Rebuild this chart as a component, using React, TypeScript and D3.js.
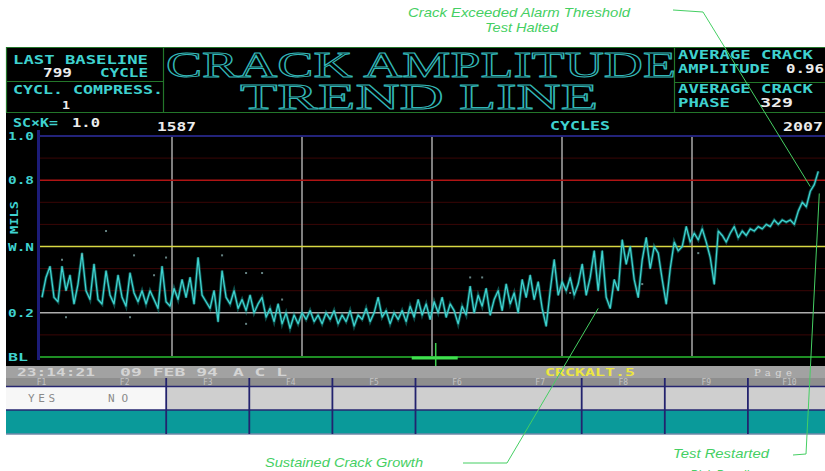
import * as d3 from "d3"

// crack amplitude (mils), left to right, evenly spaced in cycles
const amplitude = [
  0.27, 0.36, 0.41, 0.27, 0.25, 0.41, 0.3, 0.37, 0.24, 0.33, 0.47, 0.3, 0.26, 0.42, 0.26, 0.24,
  0.39, 0.28, 0.24, 0.37, 0.27, 0.23, 0.38, 0.29, 0.25, 0.3, 0.24, 0.3, 0.26, 0.22, 0.41, 0.25,
  0.23, 0.31, 0.26, 0.35, 0.27, 0.36, 0.24, 0.45, 0.28, 0.25, 0.22, 0.3, 0.16, 0.39, 0.27, 0.24,
  0.3, 0.22, 0.26, 0.21, 0.28, 0.2, 0.24, 0.27, 0.18, 0.22, 0.16, 0.24, 0.15, 0.2, 0.13, 0.19,
  0.15, 0.2, 0.17, 0.21, 0.16, 0.19, 0.15, 0.2, 0.17, 0.21, 0.15, 0.19, 0.16, 0.21, 0.14, 0.19,
  0.17, 0.22, 0.16, 0.2, 0.27, 0.18, 0.21, 0.15, 0.2, 0.17, 0.21, 0.16, 0.23, 0.18, 0.26, 0.19,
  0.24, 0.17, 0.25, 0.2, 0.27, 0.18, 0.24, 0.21, 0.15, 0.23, 0.19, 0.32, 0.2, 0.28, 0.23, 0.31,
  0.19, 0.26, 0.3, 0.21, 0.33, 0.24, 0.29, 0.2, 0.35, 0.27, 0.37, 0.26, 0.34, 0.22, 0.14, 0.3,
  0.44, 0.28, 0.34, 0.3, 0.36, 0.28, 0.33, 0.42, 0.28, 0.36, 0.48, 0.3, 0.48, 0.27, 0.22, 0.35,
  0.3, 0.53, 0.42, 0.5, 0.35, 0.27, 0.44, 0.54, 0.4, 0.5, 0.47, 0.35, 0.24, 0.4, 0.52, 0.48,
  0.5, 0.59, 0.52, 0.56, 0.53, 0.58, 0.52, 0.45, 0.33, 0.57, 0.55, 0.52, 0.56, 0.59, 0.54, 0.57,
  0.55, 0.58, 0.57, 0.59, 0.58, 0.6, 0.59, 0.62, 0.6, 0.62, 0.61, 0.62, 0.6, 0.66, 0.7, 0.68,
  0.75, 0.78, 0.84,
]

// stray samples around the trace: [sample index, mils]
const strays: [number, number][] = [
  [5, 0.44], [10, 0.46], [16, 0.57], [23, 0.46], [28, 0.37], [31, 0.45], [45, 0.46], [51, 0.38],
  [6, 0.18], [22, 0.18], [51, 0.15], [55, 0.38], [60, 0.26], [107, 0.36], [110, 0.36],
  [132, 0.29], [164, 0.47], [150, 0.33],
]

const cycleStart = 1587
const cycleEnd = 2007
const gridCycles = [1657, 1727, 1797, 1867, 1937]
const cursorCycle = 1799

const levelValues = [1.0, 0.8, 0.5, 0.2, 0]
const levelLabels = ["1.0", "0.8", "W.N", "0.2", "BL"]
const faintLevels = [0.9, 0.7, 0.6, 0.4, 0.3, 0.1]

const fnKeys = ["F1", "F2", "F3", "F4", "F5", "F6", "F7", "F8", "F9", "F10"]
const fnDividers = ["F3", "F4", "F5", "F6", "F8", "F9", "F10"]

const W = 825
const H = 471
const CYAN = "#3fd2cf"
const WHITE = "#ececec"
const HDR = "#23762a"
const PIX = "'DejaVu Sans Mono', monospace"
const NOTE = "#45cf63"

function Pix({ x, y, w, fill = CYAN, size = 12, children }: any) {
  return (
    <text
      x={x}
      y={y}
      fill={fill}
      fontFamily={PIX}
      fontWeight="bold"
      fontSize={size}
      textLength={w}
      lengthAdjust="spacingAndGlyphs"
    >
      {children}
    </text>
  )
}

function Note({ x, y, w, children }: any) {
  return (
    <text
      x={x}
      y={y}
      fill={NOTE}
      fontFamily="'Liberation Sans', Arial, sans-serif"
      fontStyle="italic"
      fontSize={13}
      textLength={w}
      lengthAdjust="spacingAndGlyphs"
    >
      {children}
    </text>
  )
}

export default function App() {
  const x = d3.scaleLinear().domain([cycleStart, cycleEnd]).range([42, 822])
  const xi = d3.scaleLinear().domain([0, amplitude.length - 1]).range([x(cycleStart), x(2005)])
  const y = d3.scaleLinear().domain([0, 1]).range([357, 136])

  const line = d3
    .line<number>()
    .x((_, i) => xi(i))
    .y((d) => y(d))

  const fx = d3.scaleBand<string>().domain(fnKeys).range([0, 831])

  const lastI = amplitude.length - 1
  const tipX = xi(lastI - 1)
  const tipY = y(amplitude[lastI - 1])
  const growX = xi(139)
  const growY = y(0.22)
  const cx = x(cursorCycle)

  const levelColor = ["#23237a", "#b01414", "#d8d843", "#aeaeae", "#1e8e24"]
  const levelWidth = [2, 1.4, 1.6, 1.6, 2]

  return (
    <svg
      width={W}
      height={H}
      style={{ position: "absolute", left: 0, top: 0, display: "block", background: "#fff" }}
    >
      {/* screen */}
      <rect x={6} y={47} width={W - 6} height={320} fill="#000" />

      {/* header boxes */}
      <g stroke={HDR} strokeWidth={1.2} fill="none">
        <line x1={6} x2={W} y1={47.5} y2={47.5} />
        <line x1={6} x2={W} y1={112.5} y2={112.5} />
        <line x1={6.5} x2={6.5} y1={47} y2={113} />
        <line x1={163.5} x2={163.5} y1={47} y2={113} />
        <line x1={674.5} x2={674.5} y1={47} y2={113} />
        <line x1={6} x2={163} y1={81.5} y2={81.5} />
        <line x1={674} x2={W} y1={82.5} y2={82.5} />
      </g>

      <Pix x={13} y={64} w={135}>LAST BASELINE</Pix>
      <Pix x={43} y={77} w={29} fill={WHITE}>799</Pix>
      <Pix x={100} y={77} w={48}>CYCLE</Pix>
      <Pix x={13} y={94} w={150}>CYCL. COMPRESS.</Pix>
      <Pix x={62} y={109} w={8} size={11} fill={WHITE}>1</Pix>

      <Pix x={678} y={59} w={135}>AVERAGE CRACK</Pix>
      <Pix x={678} y={73} w={92}>AMPLITUDE</Pix>
      <Pix x={786} y={73} w={38} fill={WHITE}>0.96</Pix>
      <Pix x={678} y={93} w={135}>AVERAGE CRACK</Pix>
      <Pix x={678} y={107} w={52}>PHASE</Pix>
      <Pix x={760} y={107} w={33} fill={WHITE}>329</Pix>

      <g
        fontFamily="'Liberation Serif', 'DejaVu Serif', serif"
        fontSize={36}
        fill="#000"
        stroke="#33b6b6"
        strokeWidth={1}
      >
        <text x={166} y={77} textLength={510} lengthAdjust="spacingAndGlyphs">
          CRACK AMPLITUDE
        </text>
        <text x={240} y={109} textLength={358} lengthAdjust="spacingAndGlyphs">
          TREND LINE
        </text>
      </g>

      {/* axis header row */}
      <Pix x={13} y={127} w={45}>SC×K=</Pix>
      <Pix x={72} y={127} w={28} fill={WHITE}>1.0</Pix>
      <Pix x={157} y={131} w={39} fill={WHITE}>{String(cycleStart)}</Pix>
      <Pix x={550} y={130} w={60}>CYCLES</Pix>
      <Pix x={783} y={131} w={40} fill={WHITE}>{String(cycleEnd)}</Pix>

      {/* plot grid */}
      {faintLevels.map((v) => (
        <line key={v} x1={40} x2={W} y1={y(v)} y2={y(v)} stroke="#3a0606" strokeWidth={1} />
      ))}
      {gridCycles.map((c) => (
        <line key={c} x1={x(c)} x2={x(c)} y1={y(1)} y2={y(0)} stroke="#a9a9a9" strokeWidth={1.5} />
      ))}
      {levelValues.map((v, i) => (
        <line
          key={v}
          x1={40}
          x2={W}
          y1={y(v)}
          y2={y(v)}
          stroke={levelColor[i]}
          strokeWidth={levelWidth[i]}
        />
      ))}
      <line x1={38.5} x2={38.5} y1={130} y2={360} stroke="#1c1c78" strokeWidth={3} />
      {levelValues.map((v, i) => (
        <Pix key={v} x={8} y={y(v) + 4} w={levelLabels[i].length === 2 ? 20 : 26} size={11}>
          {levelLabels[i]}
        </Pix>
      ))}
      <g transform="translate(18,217) rotate(-90)">
        <Pix x={-17} y={0} w={33} size={10}>MILS</Pix>
      </g>

      {/* trace */}
      <path d={line(amplitude) ?? ""} fill="none" stroke="#1aa6a0" strokeOpacity={0.45} strokeWidth={3} />
      <path d={line(amplitude) ?? ""} fill="none" stroke={CYAN} strokeWidth={1.3} strokeLinejoin="round" />
      {strays.map(([i, v], k) => (
        <rect key={k} x={xi(i) - 1} y={y(v) - 1} width={2} height={2} fill="#8fb8b8" opacity={0.7} />
      ))}

      {/* cursor */}
      <line x1={cx - 24} x2={cx + 22} y1={358} y2={358} stroke="#3fe04f" strokeWidth={3} />
      <line x1={cx} x2={cx} y1={343} y2={377} stroke="#3fd04f" strokeWidth={1.5} />

      {/* status bar */}
      <rect x={6} y={366} width={W - 6} height={12} fill="#a2a2a2" />
      <Pix x={17} y={376} w={78} size={11} fill="#d4d4d4">23:14:21</Pix>
      <Pix x={120} y={376} w={98} size={11} fill="#d4d4d4">09 FEB 94</Pix>
      <Pix x={233} y={376} w={54} size={11} fill="#d4d4d4">A C L</Pix>
      <Pix x={545} y={376} w={90} size={11} fill="#ece640">CRCKALT.5</Pix>
      <text x={754} y={376} fill="#d8d8d8" fontFamily="'DejaVu Serif', serif" fontSize={10} textLength={38}>
        Page
      </text>

      {/* function keys */}
      <rect x={6} y={378} width={W - 6} height={9} fill="#8e8e8e" />
      <rect x={6} y={387} width={160} height={23} fill="#f7f7f7" />
      <rect x={166} y={387} width={W - 166} height={23} fill="#cfcfcf" />
      <rect x={6} y={410} width={W - 6} height={24} fill="#0a9a9a" />
      <line x1={6} x2={W} y1={386.5} y2={386.5} stroke="#262670" strokeWidth={1.5} />
      <line x1={6} x2={W} y1={410} y2={410} stroke="#262670" strokeWidth={1.5} />
      <line x1={6} x2={W} y1={434} y2={434} stroke="#7088a8" strokeWidth={1.5} />
      {fnKeys.map((k) => (
        <text
          key={k}
          x={(fx(k) ?? 0) + fx.bandwidth() / 2}
          y={385}
          fill="#c4c4c4"
          fontFamily={PIX}
          fontSize={8}
          textAnchor="middle"
        >
          {k}
        </text>
      ))}
      {fnDividers.map((k) => (
        <line
          key={k}
          x1={fx(k) ?? 0}
          x2={fx(k) ?? 0}
          y1={378}
          y2={434}
          stroke="#23236e"
          strokeWidth={1.8}
        />
      ))}
      <text x={28} y={402} fill="#8a8a8a" fontFamily="'DejaVu Sans Mono', monospace" fontSize={11} textLength={27}>
        YES
      </text>
      <text x={108} y={402} fill="#8a8a8a" fontFamily="'DejaVu Sans Mono', monospace" fontSize={11} textLength={20}>
        NO
      </text>

      {/* annotations */}
      <g stroke={NOTE} strokeWidth={1} fill="none">
        <polyline points={`673,10 703,12 ${tipX - 4},${tipY + 2}`} />
        <polyline points={`463,463 507,463 ${growX},${growY}`} />
        <polyline points={`793,455 806,454 ${xi(lastI) + 1},${y(0.74)}`} />
      </g>
      <Note x={408} y={17} w={222}>Crack Exceeded Alarm Threshold</Note>
      <Note x={485} y={32} w={73}>Test Halted</Note>
      <Note x={265} y={467} w={158}>Sustained Crack Growth</Note>
      <Note x={673} y={458} w={96}>Test Restarted</Note>
      <Note x={690} y={479} w={72}>Pick Baseline</Note>
    </svg>
  )
}
